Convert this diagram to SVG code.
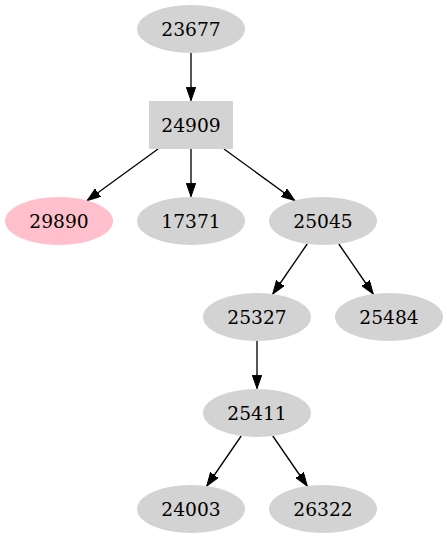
<svg xmlns="http://www.w3.org/2000/svg" width="447" height="539" viewBox="0 0 447 539">
<style>
.n{fill:#d3d3d3;stroke:none}
.p{fill:#ffc0cb;stroke:none}
text{font-family:"DejaVu Serif","Liberation Serif",serif;font-size:18.67px;text-anchor:middle;fill:#000}
.e{stroke:#000;stroke-width:1.33;fill:none;marker-end:url(#a)}
</style>
<defs>
<marker id="a" markerUnits="userSpaceOnUse" markerWidth="14" markerHeight="10" refX="13.3" refY="4.67" orient="auto" viewBox="0 0 14 10">
<path d="M0,0 L13.3,4.67 L0,9.33 z" fill="#000" stroke="#000" stroke-width="1"/>
</marker>
</defs>
<rect width="447" height="539" fill="#fff"/>
<g id="edges">
<line class="e" x1="191" y1="53" x2="191" y2="100.5"/>
<line class="e" x1="158" y1="149" x2="87.2" y2="200.5"/>
<line class="e" x1="191" y1="149" x2="191" y2="196.5"/>
<line class="e" x1="224" y1="149" x2="294.8" y2="200.5"/>
<line class="e" x1="307.2" y1="244" x2="272.8" y2="294"/>
<line class="e" x1="338.8" y1="244" x2="373.2" y2="294"/>
<line class="e" x1="257" y1="341" x2="257" y2="388.5"/>
<line class="e" x1="241.2" y1="436" x2="206.8" y2="486"/>
<line class="e" x1="272.8" y1="436" x2="307.2" y2="486"/>
</g>
<g id="n23677"><ellipse class="n" cx="191" cy="29" rx="54" ry="24"/><text x="191" y="35.5">23677</text></g>
<g id="n24909"><rect class="n" x="149" y="101" width="84" height="48"/><text x="191" y="131.5">24909</text></g>
<g id="n29890"><ellipse class="p" cx="59" cy="221" rx="54" ry="24"/><text x="59" y="227.5">29890</text></g>
<g id="n17371"><ellipse class="n" cx="191" cy="221" rx="54" ry="24"/><text x="191" y="227.5">17371</text></g>
<g id="n25045"><ellipse class="n" cx="323" cy="221" rx="54" ry="24"/><text x="323" y="227.5">25045</text></g>
<g id="n25327"><ellipse class="n" cx="257" cy="317" rx="54" ry="24"/><text x="257" y="323.5">25327</text></g>
<g id="n25484"><ellipse class="n" cx="389" cy="317" rx="54" ry="24"/><text x="389" y="323.5">25484</text></g>
<g id="n25411"><ellipse class="n" cx="257" cy="413" rx="54" ry="24"/><text x="257" y="419.5">25411</text></g>
<g id="n24003"><ellipse class="n" cx="191" cy="509" rx="54" ry="24"/><text x="191" y="515.5">24003</text></g>
<g id="n26322"><ellipse class="n" cx="323" cy="509" rx="54" ry="24"/><text x="323" y="515.5">26322</text></g>
</svg>
